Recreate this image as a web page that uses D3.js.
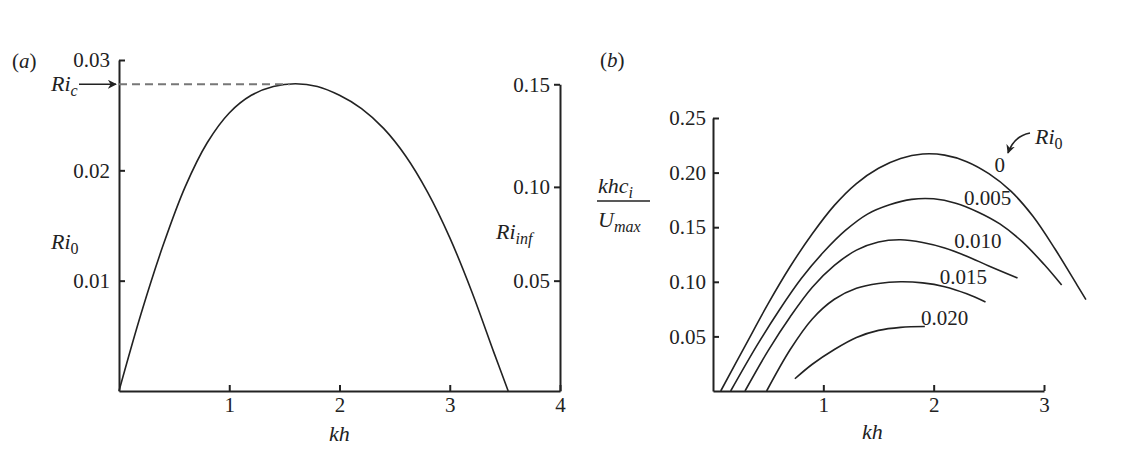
<!DOCTYPE html>
<html>
<head>
<meta charset="utf-8">
<script src="https://cdn.jsdelivr.net/npm/d3@7"></script>
<style>
  body { margin: 0; background: #fff; }
  svg text { font-family: "Liberation Serif", "DejaVu Serif", serif; fill: #222; }
</style>
</head>
<body>
<div id="chart"></div>
<script>
// panel (a): neutral curve Ri0 vs kh
const khA = [0, 0.2, 0.4, 0.6, 0.8, 1.0, 1.2, 1.4, 1.6, 1.8, 2.0, 2.2, 2.4, 2.6, 2.8, 3.0, 3.2, 3.4, 3.53];
const ri0A = [0, 0.0070, 0.0132, 0.0185, 0.0225, 0.0252, 0.0268, 0.0276, 0.02785, 0.0276, 0.0268, 0.0256, 0.0238, 0.0213, 0.0180, 0.0139, 0.0090, 0.0035, 0];
const riC = 0.0278, riCkh = 1.55;
const ri0Ticks = [0.01, 0.02, 0.03];
const khTicksA = [1, 2, 3, 4];
// right-hand axis: Ri_inf values and the Ri0 level they sit at
const riInfTicks = [0, 0.05, 0.10, 0.15];
const riInfAtRi0 = [0, 0.0100, 0.0185, 0.0278];

// panel (b): growth rate curves for several Ri0
const seriesB = ['0', '0.005', '0.010', '0.015', '0.020'];
const khB = [
  [0.07, 0.3, 0.5, 0.7, 0.9, 1.1, 1.3, 1.5, 1.7, 1.9, 2.1, 2.3, 2.5, 2.7, 2.9, 3.1, 3.3, 3.38],
  [0.16, 0.4, 0.6, 0.8, 1.0, 1.2, 1.4, 1.6, 1.8, 2.0, 2.2, 2.4, 2.6, 2.8, 3.0, 3.16],
  [0.29, 0.5, 0.7, 0.9, 1.1, 1.3, 1.5, 1.7, 1.9, 2.1, 2.3, 2.5, 2.76],
  [0.486, 0.7, 0.9, 1.1, 1.3, 1.5, 1.7, 1.9, 2.1, 2.3, 2.47],
  [0.742, 0.9, 1.1, 1.3, 1.5, 1.7, 1.92]
];
const growthB = [
  [0, 0.043, 0.080, 0.114, 0.144, 0.170, 0.190, 0.204, 0.213, 0.217, 0.216, 0.210, 0.199, 0.183, 0.160, 0.130, 0.097, 0.0836],
  [0, 0.042, 0.074, 0.103, 0.127, 0.147, 0.162, 0.1705, 0.1755, 0.176, 0.172, 0.164, 0.153, 0.137, 0.116, 0.097],
  [0, 0.037, 0.068, 0.095, 0.115, 0.129, 0.1365, 0.1385, 0.136, 0.131, 0.1235, 0.1145, 0.1035],
  [0, 0.038, 0.066, 0.084, 0.094, 0.0985, 0.100, 0.099, 0.0955, 0.089, 0.0815],
  [0.0112, 0.0245, 0.038, 0.049, 0.0555, 0.0583, 0.059]
];
// where each series label sits (kh, value)
const labelKh = [2.6, 2.49, 2.40, 2.27, 2.10];
const labelV = [0.207, 0.177, 0.1375, 0.1047, 0.067];
const growthTicks = [0.05, 0.10, 0.15, 0.20, 0.25];
const khTicksB = [1, 2, 3];

const W = 1122, H = 451;
const ink = '#222';
const fs = 21;

const svg = d3.select('#chart').append('svg')
  .attr('width', W).attr('height', H);

svg.append('defs').append('marker')
  .attr('id', 'arrow')
  .attr('viewBox', '0 0 10 10')
  .attr('refX', 9).attr('refY', 5)
  .attr('markerWidth', 9).attr('markerHeight', 9)
  .attr('markerUnits', 'userSpaceOnUse')
  .attr('orient', 'auto')
  .append('path')
  .attr('d', 'M0,0L10,5L0,10L3,5Z')
  .attr('fill', ink);

function styleAxis(g){
  g.attr('font-family', '"Liberation Serif", serif').attr('font-size', fs);
  g.selectAll('path, line').attr('stroke', ink).attr('stroke-width', 2);
  g.selectAll('text').attr('fill', ink);
}

function zip(a, b){ return a.map(function(d, i){ return [d, b[i]]; }); }

// ---------- panel (a) ----------
const xA = d3.scaleLinear().domain([0, 4]).range([119, 560]);
const yA = d3.scaleLinear().domain([0, 0.03]).range([391, 60]);
const yInf = d3.scaleLinear().domain(riInfTicks).range(riInfAtRi0.map(yA));

svg.append('g')
  .attr('transform', `translate(${xA(0)},0)`)
  .call(d3.axisLeft(yA).tickValues(ri0Ticks).tickFormat(d3.format('.2f'))
    .tickSizeInner(-6).tickSizeOuter(0).tickPadding(9))
  .call(styleAxis);

svg.append('g')
  .attr('transform', `translate(0,${yA(0)})`)
  .call(d3.axisBottom(xA).tickValues(khTicksA).tickFormat(d3.format('d'))
    .tickSizeInner(-6).tickSizeOuter(0).tickPadding(6))
  .call(styleAxis);

svg.append('g')
  .attr('transform', `translate(${xA(4)},0)`)
  .call(d3.axisLeft(yInf).tickValues(riInfTicks.slice(1)).tickFormat(d3.format('.2f'))
    .tickSizeInner(6).tickSizeOuter(0).tickPadding(4))
  .call(styleAxis);

const lineA = d3.line()
  .x(function(d){ return xA(d[0]); })
  .y(function(d){ return yA(d[1]); })
  .curve(d3.curveCatmullRom.alpha(0.5));

svg.append('path')
  .datum(zip(khA, ri0A))
  .attr('d', lineA)
  .attr('fill', 'none').attr('stroke', ink).attr('stroke-width', 1.6);

// Ri_c dashed level
svg.append('line')
  .attr('x1', xA(0)).attr('x2', xA(riCkh))
  .attr('y1', yA(riC)).attr('y2', yA(riC))
  .attr('stroke', '#777').attr('stroke-width', 2)
  .attr('stroke-dasharray', '8,5');

svg.append('line')
  .attr('x1', xA(0) - 40).attr('x2', xA(0) - 3)
  .attr('y1', yA(riC)).attr('y2', yA(riC))
  .attr('stroke', ink).attr('stroke-width', 1.6)
  .attr('marker-end', 'url(#arrow)');

function subLabel(x, y, main, sub, subItalic){
  const t = svg.append('text').attr('x', x).attr('y', y).attr('font-size', fs + 1);
  t.append('tspan').attr('font-style', 'italic').text(main);
  t.append('tspan').attr('dy', 5).attr('font-size', 16)
    .attr('font-style', subItalic ? 'italic' : 'normal').text(sub);
  return t;
}

subLabel(51, yA(riC) + 7, 'Ri', 'c', true);
subLabel(51, 249, 'Ri', '0', false);
subLabel(496, 239, 'Ri', 'inf', true);

svg.append('text').attr('x', 12).attr('y', 68).attr('font-size', fs)
  .html('(<tspan font-style="italic">a</tspan>)');

svg.append('text').attr('x', xA(2)).attr('y', 441).attr('font-size', fs + 1)
  .attr('text-anchor', 'middle').attr('font-style', 'italic').text('kh');

// ---------- panel (b) ----------
const xB = d3.scaleLinear().domain([0, 3]).range([713, 1044]);
const yB = d3.scaleLinear().domain([0, 0.25]).range([391, 118]);

svg.append('g')
  .attr('transform', `translate(${xB(0)},0)`)
  .call(d3.axisLeft(yB).tickValues(growthTicks).tickFormat(d3.format('.2f'))
    .tickSizeInner(-6).tickSizeOuter(0).tickPadding(7))
  .call(styleAxis);

svg.append('g')
  .attr('transform', `translate(0,${yB(0)})`)
  .call(d3.axisBottom(xB).tickValues(khTicksB).tickFormat(d3.format('d'))
    .tickSizeInner(-6).tickSizeOuter(0).tickPadding(6))
  .call(styleAxis);

const lineB = d3.line()
  .x(function(d){ return xB(d[0]); })
  .y(function(d){ return yB(d[1]); })
  .curve(d3.curveCatmullRom.alpha(0.5));

svg.append('g').selectAll('path')
  .data(seriesB)
  .join('path')
  .attr('d', function(d, i){ return lineB(zip(khB[i], growthB[i])); })
  .attr('fill', 'none').attr('stroke', ink).attr('stroke-width', 1.6);

svg.append('g').selectAll('text')
  .data(seriesB)
  .join('text')
  .attr('x', function(d, i){ return xB(labelKh[i]); })
  .attr('y', function(d, i){ return yB(labelV[i]) + 7; })
  .attr('text-anchor', 'middle').attr('font-size', fs)
  .text(function(d){ return d; });

// Ri0 callout with curved arrow
subLabel(1035, 144, 'Ri', '0', false);
svg.append('path')
  .attr('d', `M1030,133 Q1014,136 1008,153`)
  .attr('fill', 'none').attr('stroke', ink).attr('stroke-width', 1.6)
  .attr('marker-end', 'url(#arrow)');

svg.append('text').attr('x', 600).attr('y', 67).attr('font-size', fs)
  .html('(<tspan font-style="italic">b</tspan>)');

svg.append('text').attr('x', xB(1.5) - 6).attr('y', 439).attr('font-size', fs + 1)
  .attr('text-anchor', 'middle').attr('font-style', 'italic').text('kh');

// y label as fraction
const frac = svg.append('g');
const num = frac.append('text').attr('x', 598).attr('y', 193).attr('font-size', fs + 1);
num.append('tspan').attr('font-style', 'italic').text('khc');
num.append('tspan').attr('dy', 5).attr('font-size', 16).attr('font-style', 'italic').text('i');
frac.append('line').attr('x1', 597).attr('x2', 650).attr('y1', 201).attr('y2', 201)
  .attr('stroke', ink).attr('stroke-width', 1.3);
const den = frac.append('text').attr('x', 598).attr('y', 227).attr('font-size', fs + 1);
den.append('tspan').attr('font-style', 'italic').text('U');
den.append('tspan').attr('dy', 5).attr('font-size', 16).attr('font-style', 'italic').text('max');
</script>
</body>
</html>
